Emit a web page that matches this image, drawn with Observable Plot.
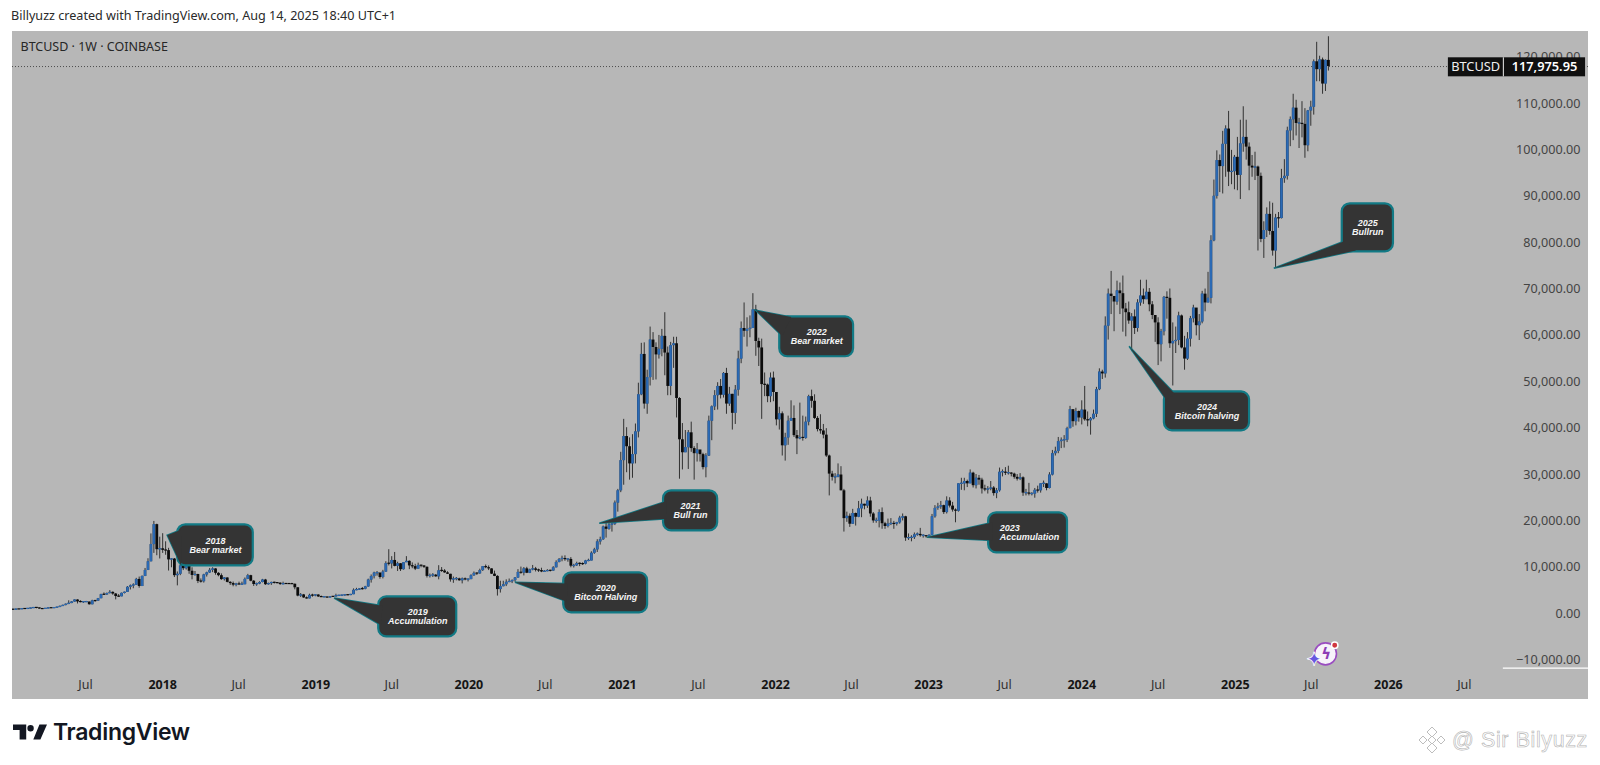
<!DOCTYPE html>
<html><head><meta charset="utf-8">
<script src="https://cdn.jsdelivr.net/npm/d3@7"></script>
<script src="https://cdn.jsdelivr.net/npm/@observablehq/plot@0.6"></script>
<style>
html,body{margin:0;padding:0;background:#fff;width:1600px;height:765px;overflow:hidden;font-family:"Noto Sans",sans-serif}
#head{position:absolute;left:11px;top:7px;font-size:12.6px;color:#2a2a2a;white-space:nowrap}
#chart{position:absolute;left:12px;top:31px}
#chart svg{display:block}
#logo{position:absolute;left:13px;top:718px;display:flex;align-items:center}
#logo span{font:600 23px "Inter",sans-serif;color:#131722;margin-left:6px;letter-spacing:-.3px}
#mark{position:absolute;left:1417px;top:725px;display:flex;align-items:center}
#mark span{font:21.5px "Liberation Sans",sans-serif;color:#fff;-webkit-text-stroke:.6px #b4b4b4;letter-spacing:.6px;margin-left:5px}
</style></head><body>
<div id="head">Billyuzz created with TradingView.com, Aug 14, 2025 18:40 UTC+1</div>
<div id="chart"></div>
<div id="logo"><svg width="34" height="18" viewBox="0 0 36 18"><path fill="#131722" d="M14 1H0v6h7v10h7zM22 5a3.4 3.4 0 1 1-6.800 0 3.400 3.400 0 0 1 6.800 0zM36 1h-8l-6.500 16H29z"/></svg><span>TradingView</span></div>
<div id="mark"><svg width="30" height="30" viewBox="0 0 30 30"><g fill="#fff" stroke="#bdbdbd" stroke-width="1"><path d="M15 2l5 5-5 5-5-5z"/><path d="M6 11l4 4-4 4-4-4z"/><path d="M24 11l4 4-4 4-4-4z"/><path d="M15 11l4 4-4 4-4-4z"/><path d="M15 18l5 5-5 5-5-5z"/></g></svg><span>@ Sir Bilyuzz</span></div>
<script>
// Weekly BTCUSD candles (weeks starting Monday 2017-01-02)
const firstOpen = 1000;
const closes2017=[905,820,925,920,1020,1000,1055,1170,1265,1225,1030,970,1095,1185,1175,1245,1350,1560,1780,2040,2200,2520,2950,2540,2480,2490,2510,1930,2750,2720,3230,4100,4060,4350,4600,4240,3700,3650,4390,4610,5690,6010,6150,7390,5870,8040,9330,11200,14900,19200,13800,14000];
const highs2017=[1150,915,935,925,1040,1060,1060,1180,1290,1295,1250,1120,1100,1210,1205,1265,1355,1640,1840,2100,2780,2590,2980,3000,2790,2600,2650,2520,2900,2850,3290,4200,4480,4470,4980,4700,4350,4120,4450,4650,5850,6200,6450,7620,7900,8120,9750,11850,17200,19890,19300,16500];
const lows2017=[880,750,815,885,915,970,990,1050,1170,1060,960,890,960,1090,1150,1170,1240,1345,1550,1680,1950,2150,2480,2100,2350,2220,2480,1850,1930,2470,2670,3260,3980,3950,4250,3980,2980,3530,3640,4260,4610,5120,5380,6100,5500,5850,8000,9300,11200,13000,12500,11800];
const closes2018=[13650,13600,11600,11780,8200,8500,10300,9700,11400,9150,8250,8450,6950,6900,8350,8800,9350,9650,8700,8200,7350,7700,6750,6500,6150,6380,6250,6250,7400,8200,7000,6300,6400,6720,7260,6250,6500,6710,6600,6590,6290,6410,6400,6390,6350,5590,3800,4050,3400,3200,3950,3850,4030];
const highs2018=[17250,15500,14100,11900,11900,9000,11300,11500,11700,11600,9900,9100,8500,7500,8500,8950,9750,9900,9700,8850,8580,7800,7750,6900,6830,6550,6800,6800,7700,8480,8280,7150,6600,6900,7400,7400,6600,6800,6800,6700,6650,6800,6500,6500,6550,6400,5600,4350,4150,3600,4200,4200,4070];
const lows2018=[13000,12600,9200,9900,7800,6000,8200,9300,9400,8500,7300,8100,6500,6600,6600,7900,8700,8850,8300,7950,7200,7050,6650,6100,5800,5800,6100,6100,6250,7350,6880,5880,5900,6250,6650,6100,6150,6100,6400,6450,6100,6300,6380,6300,6300,5150,3650,3500,3300,3150,3200,3550,3650];
const closes2019=[3610,3540,3560,3410,3640,3630,3850,3860,3930,3990,3970,4100,5050,5130,5300,5280,5780,7250,8000,8750,8750,7800,8970,10800,10750,11480,10200,10770,9490,10990,11290,10300,10150,9600,10400,10300,10000,8050,8200,8300,7950,9250,9200,8800,8500,7300,7450,7500,7100,7500,7300,7350];
const highs2019=[4080,3800,3620,3560,3700,3700,4200,3900,3950,4000,4100,4150,5350,5470,5400,5650,5900,7450,8350,8950,9100,8800,9350,11200,13800,12300,13200,11100,10800,11000,12300,11400,10950,10650,10900,10450,10350,10100,8550,8650,8450,10350,9950,9500,9050,8500,7900,7800,7650,7700,7700,7500];
const lows2019=[3500,3500,3450,3350,3370,3580,3650,3700,3700,3800,3900,3900,4100,4950,5000,5100,5150,5700,6600,7500,8100,7450,7500,8950,10300,9650,10100,9100,9100,9400,11050,9500,9700,9300,9700,9900,9750,7700,7700,7800,7850,7300,8900,8700,8450,6800,6550,7080,7000,6430,7100,6850];
const closes2020=[8180,8700,8600,9300,10150,9920,9660,8530,8040,5200,5830,6240,6770,6900,7130,7700,8900,8760,9670,8720,9440,9660,9350,9300,9000,9070,9300,9200,9900,11050,11700,11900,11650,11700,10250,10330,10800,10700,10680,11370,11370,13030,13760,15480,15950,18680,18200,19150,19270,23850,26500,33000];
const highs2020=[8400,9000,8800,9600,10170,10500,10300,9700,9180,8200,7000,7000,7300,7480,7300,7800,9500,10050,9950,10000,9600,10400,9980,9600,9800,9300,9500,9350,10150,11400,11900,12400,12480,11800,12100,10650,11100,10950,10950,11500,11750,13350,14100,15950,16500,18900,19450,19900,19450,24300,26800,34800];
const lows2020=[7350,8050,8250,8500,9100,9700,9300,8450,8000,3800,4450,5800,5850,6700,6500,6800,7650,8500,8150,8650,8650,9250,9000,8900,8850,8900,9050,9000,9130,9900,10950,11200,11300,11100,9900,9850,10200,10150,10400,10530,11200,11400,12800,13200,14800,15800,16300,18000,17600,19000,21900,26100];
const closes2021=[38200,36000,32300,34300,39200,47200,55900,45200,50900,59000,57400,55800,57000,59800,56200,49000,57800,58200,46400,37500,34700,35800,39000,35600,34500,35300,34300,31500,34000,41500,44600,47000,49000,47100,51800,45200,47300,43200,48200,54900,61500,60900,61300,61500,65500,58700,57300,49400,49300,46800,50800,47700];
const highs2021=[41900,40100,37900,38600,40900,49700,58300,58400,52500,61800,60600,58400,60000,61300,64900,57500,58500,59600,59600,46600,41000,39500,39500,41300,36000,36700,35100,34600,34500,42600,44800,48100,49800,50500,52000,52900,48800,47300,49200,56600,62900,67000,63800,64200,69000,66500,59400,59200,51900,49500,51900,52100];
const lows2021=[27700,30400,28800,29200,32300,37900,47000,44100,43000,49100,50300,50400,54900,55400,51300,47000,47000,52900,42200,29000,31000,34800,31100,34800,28800,32700,32700,31000,29300,33900,37300,43800,43900,46300,46500,43000,44700,39600,40800,46900,53900,59600,57500,59500,62300,55500,53300,41900,46800,45500,45500,45700];
const closes2022=[41800,43100,36200,37900,41500,42100,38400,37700,38000,37800,41300,46800,45800,42100,39700,39400,38500,34000,30100,29400,29400,29900,26500,20500,21000,19300,21600,20800,22600,23600,23200,24300,21500,20000,20000,21800,19400,18800,19300,19400,19300,19600,20600,20900,16300,16300,16400,17000,17100,16800,16800,16600];
const highs2022=[47600,44500,43500,38900,42600,45900,44800,39500,45400,42600,42400,47100,48200,47200,42500,42900,40800,39900,34200,30700,30200,32300,31700,26800,21900,21500,22500,21700,24200,24700,23600,25200,25100,21800,20600,22400,22800,19700,20400,20500,19900,19700,21000,21500,21000,17200,16800,17400,17400,18400,17000,16800];
const lows2022=[40500,39600,34000,32900,36300,41700,38000,34300,37500,37200,37600,40500,44300,41900,39200,38700,37700,33700,25400,28600,28000,29300,26500,17600,19700,18600,19300,18900,20700,20700,22400,22700,20800,19500,19500,18500,18200,18200,18500,19000,18200,18900,19300,20000,15600,15800,15500,16000,16700,16500,16300,16300];
const closes2023=[16900,20900,22700,23000,23300,21800,24300,23200,22350,22100,28000,28000,28500,28000,30300,27600,29200,28800,26900,26700,26850,27100,25900,26500,30500,30500,30300,30300,30100,29400,29000,29300,26000,26000,25800,25800,26600,26500,28000,28000,27000,29900,34500,35000,37100,37400,37400,39900,44000,41400,43600,42200];
const highs2023=[17000,21400,23300,23800,24200,23400,25200,25000,24000,22600,28000,29200,29200,28800,31000,30500,30000,29800,29200,27700,27400,28500,27400,27000,31400,31000,31500,31800,30400,30300,30000,30200,29500,26800,28100,26100,27000,27500,28000,28600,28000,30400,35200,35900,38000,37900,38400,40200,44700,43400,44300,43700];
const lows2023=[16500,17300,20600,22300,22500,21400,21500,22800,21900,19600,21900,26600,26500,27200,28100,27100,26900,27700,25800,26300,25800,26500,25350,24800,26200,29500,29800,29900,29500,29000,28600,28700,25300,25400,25400,25400,24900,26000,26000,27200,26500,26900,29700,34000,34500,35600,35700,36900,39900,40200,40500,41300];
const closes2024=[43900,41800,41600,42000,43000,48300,52100,51700,62000,68900,68400,67200,69600,69000,65700,64900,63100,64000,61500,67000,68500,67700,69300,66600,64300,62700,58000,60800,68200,68000,58200,58700,58900,64200,57300,54900,59200,63600,65900,62100,62900,68900,67000,68000,80400,90000,97700,96400,101200,104500,95200,95300,98400];
const highs2024=[45900,49000,43500,42300,43900,48800,52800,52500,64000,70000,73800,68200,71700,71300,72800,66900,67200,64700,65500,67700,71900,70000,71900,70100,67300,63300,63800,61300,68400,69400,70000,62700,61800,65000,64400,59800,60600,64100,66500,65600,64500,69500,70000,73600,81500,93500,99800,98900,104000,105200,108300,99900,98800];
const lows2024=[40700,41500,40300,38500,41800,42300,48100,50500,50800,59000,64500,60800,66500,64500,60700,59700,62400,56500,60200,60700,66300,66700,68500,65100,63400,58500,53500,54300,59900,63500,57200,49100,56100,57800,57100,52500,54600,57500,62700,59900,58900,62500,65100,67500,66800,80200,89400,90800,90500,94100,92100,92500,91400];
const closes2025=[94500,101300,102700,100600,96500,96100,96300,94300,80700,82600,86100,82400,78200,85300,85200,93800,94300,104100,106500,109000,105700,105700,105500,100900,108400,109200,119000,117300,119400,114200,119300,117975.95];
const highs2025=[102700,106400,109300,106400,101500,98800,99500,96500,95000,84500,87500,88800,88500,86100,86500,95800,97900,104900,107100,112000,110700,106800,110400,108900,108500,110500,119400,123200,120200,119800,119400,124400];
const lows2025=[91200,89300,99500,97800,91200,94100,93400,78200,80000,76600,81100,81600,77100,74400,83100,85100,92800,93500,100700,102000,103000,100300,102600,98200,99600,105100,107500,114700,114700,112000,112600,117000];

const lastPrice = 117975.95;
const priceTicks = [-10000,0,10000,20000,30000,40000,50000,60000,70000,80000,90000,100000,110000,120000];
const yearTickLabels = [2018,2019,2020,2021,2022,2023,2024,2025,2026];
const julTickLabels = [2017,2018,2019,2020,2021,2022,2023,2024,2025,2026];

// Callouts: tip and box in chart units; base = where the pointer meets the box (fractions of the box)
const callouts = [
 {text:"2018\nBear market",tip:["2018-01-13",16800],box:["2018-02-06","2018-08-05",19170,10330],base:[[0,.17],[.03,.92]]},
 {text:"2019\nAccumulation",tip:["2019-02-15",3280],box:["2019-05-31","2019-12-03",3640,-4980],base:[[0,.22],[0,.68]]},
 {text:"2020\nBitcon Halving",tip:["2020-04-21",6660],box:["2020-08-14","2021-03-02",8820,190],base:[[0,.28],[0,.7]]},
 {text:"2021\nBull run",tip:["2020-11-08",19380],box:["2021-04-09","2021-08-16",26500,17870],base:[[0,.3],[0,.72]]},
 {text:"2022\nBear market",tip:["2021-11-16",65300],box:["2022-01-11","2022-07-06",64000,55400],base:[[.11,0],[0,.42]]},
 {text:"2023\nAccumulation",tip:["2022-12-29",16360],box:["2023-05-24","2023-11-28",21760,13130],base:[[0,.28],[0,.7]],left:true},
 {text:"2024\nBitcoin halving",tip:["2024-04-24",57550],box:["2024-07-16","2025-02-04",47840,39440],base:[[.1,0],[0,.13]]},
 {text:"2025\nBullrun",tip:["2025-04-04",74360],box:["2025-09-13","2026-01-13",88380,78030],base:[[0,.81],[.2,1]]}
];

const closes = [...closes2017,...closes2018,...closes2019,...closes2020,...closes2021,...closes2022,...closes2023,...closes2024,...closes2025];
const highs = [...highs2017,...highs2018,...highs2019,...highs2020,...highs2021,...highs2022,...highs2023,...highs2024,...highs2025];
const lows = [...lows2017,...lows2018,...lows2019,...lows2020,...lows2021,...lows2022,...lows2023,...lows2024,...lows2025];
if (closes.length!==highs.length||closes.length!==lows.length) throw new Error("length "+[closes.length,highs.length,lows.length]);
const weeks = d3.utcMonday.range(new Date(Date.UTC(2017,0,2)), new Date(Date.UTC(2026,0,1))).slice(0,closes.length);
const candles = closes.map((c,i)=>{
  const o = i?closes[i-1]:firstOpen;
  const pad = Math.max(0,(260-Math.abs(c-o))/2);
  return {date:weeks[i],open:o,close:c,high:highs[i],low:lows[i],b0:Math.min(o,c)-pad,b1:Math.max(o,c)+pad,up:c>=o};
});
const D = s=>new Date(s+"T00:00:00Z");
const bg="#b7b7b7", teal="#127a85", dark="#343434";

function calloutMark(index, scales){
  const g = d3.create("svg:g");
  for (const c of callouts){
    const x0=scales.x(D(c.box[0])), x1=scales.x(D(c.box[1])), y0=scales.y(c.box[2]), y1=scales.y(c.box[3]);
    const tx=scales.x(D(c.tip[0])), ty=scales.y(c.tip[1]);
    const pts=c.base.map(([fx,fy])=>{
      const px=x0+fx*(x1-x0), py=y0+fy*(y1-y0), d=Math.hypot(px-tx,py-ty);
      return [px+(px-tx)/d*4, py+(py-ty)/d*4];
    });
    const tail=`M${tx},${ty}L${pts[0]}L${pts[1]}Z`;
    g.append("path").attr("d",tail).attr("fill",dark).attr("stroke",teal).attr("stroke-width",1.6).attr("stroke-linejoin","miter");
    g.append("rect").attr("x",x0).attr("y",y0).attr("width",x1-x0).attr("height",y1-y0).attr("rx",8)
      .attr("fill",dark).attr("stroke",teal).attr("stroke-width",2.2);
    g.append("path").attr("d",tail).attr("fill",dark);
  }
  return g.node();
}

const width=1576, height=668;
const chart = Plot.plot({
  width,height,marginLeft:0,marginRight:0,marginTop:0,marginBottom:0,
  style:{background:bg,fontFamily:'"Noto Sans",sans-serif',overflow:"hidden"},
  x:{type:"utc",domain:[D("2017-01-08"),D("2027-04-23")],axis:null},
  y:{domain:[-18500,125530],axis:null},
  marks:[
    Plot.ruleY([lastPrice],{stroke:"#333",strokeWidth:.8,strokeDasharray:"1 2"}),
    Plot.axisX(julTickLabels.map(y=>new Date(Date.UTC(y,6,1))),{anchor:"bottom",tickSize:0,tickPadding:0,dy:-19.5,fontSize:12.5,fill:"#2f2f2f",tickFormat:()=>"Jul",label:null}),
    Plot.axisX(yearTickLabels.map(y=>new Date(Date.UTC(y,0,1))),{anchor:"bottom",tickSize:0,tickPadding:0,dy:-19.5,fontSize:12.5,fontWeight:700,fill:"#151515",tickFormat:d3.utcFormat("%Y"),label:null}),
    Plot.axisY(priceTicks,{anchor:"right",tickSize:0,tickPadding:0,dx:-8,textAnchor:"end",fontSize:12.6,fill:"#444",tickFormat:d3.format(",.2f"),label:null}),
    Plot.ruleY([-11730],{x1:D("2026-10-02"),x2:D("2027-04-23"),stroke:"#fff",strokeWidth:1.2}),
    Plot.ruleX(candles,{x:"date",y1:"low",y2:"high",stroke:"#222",strokeWidth:.9}),
    Plot.ruleX(candles,{x:"date",y1:"b0",y2:"b1",stroke:d=>d.up?"#1f4470":"#0c0c0c",strokeWidth:2.8}),
    Plot.ruleX(candles.filter(d=>d.up),{x:"date",y1:"b0",y2:"b1",stroke:"#2b6ab5",strokeWidth:2}),
    calloutMark,
    Plot.text(callouts.filter(c=>!c.left),{x:c=>new Date((+D(c.box[0])+ +D(c.box[1]))/2),y:c=>(c.box[2]+c.box[3])/2,text:"text",fill:"#f4f4f4",fontSize:9,fontWeight:700,fontStyle:"italic",lineHeight:1,fontFamily:'"Liberation Sans",sans-serif'}),
    Plot.text(callouts.filter(c=>c.left),{x:c=>D(c.box[0]),y:c=>(c.box[2]+c.box[3])/2,dx:11,textAnchor:"start",text:"text",fill:"#f4f4f4",fontSize:9,fontWeight:700,fontStyle:"italic",lineHeight:1,fontFamily:'"Liberation Sans",sans-serif'}),
    Plot.text(["BTCUSD · 1W · COINBASE"],{frameAnchor:"top-left",dx:8,dy:11,fill:"#262626",fontSize:12.5,text:d=>d}),
    // last price tag
    Plot.rect([0],{x1:D("2026-05-24"),x2:D("2027-04-16"),y1:115760,y2:119860,fill:"#101010"}),
    Plot.ruleX([D("2026-10-02")],{y1:115760,y2:119860,stroke:"#eee",strokeWidth:1}),
    Plot.text(["BTCUSD"],{x:D("2026-07-28"),y:lastPrice-100,fill:"#f0f0f0",fontSize:12.8,text:d=>d}),
    Plot.text([lastPrice],{x:D("2027-01-08"),y:lastPrice-100,fill:"#fff",fontSize:12.8,fontWeight:600,text:d3.format(",.2f")}),
    // AI badge
    Plot.dot([0],{x:D("2025-08-04"),y:-8660,r:11,fill:"#f7f3fa",stroke:"#9a4dc0",strokeWidth:1.6}),
    Plot.text(["ϟ"],{x:D("2025-08-06"),y:-8660,fill:"#8d3db5",fontSize:15,fontWeight:700,text:d=>d,fontFamily:'"DejaVu Sans"'}),
    Plot.dot([0],{x:D("2025-08-26"),y:-6800,r:3.2,fill:"#d0383f",stroke:"#fff"}),
    Plot.text(["✦"],{x:D("2025-07-08"),y:-9800,fill:"#6657e0",stroke:"#fff",strokeWidth:1.5,paintOrder:"stroke",fontSize:17,text:d=>d,fontFamily:'"DejaVu Sans"'})
  ]
});
document.getElementById("chart").append(chart);
</script>
</body></html>
